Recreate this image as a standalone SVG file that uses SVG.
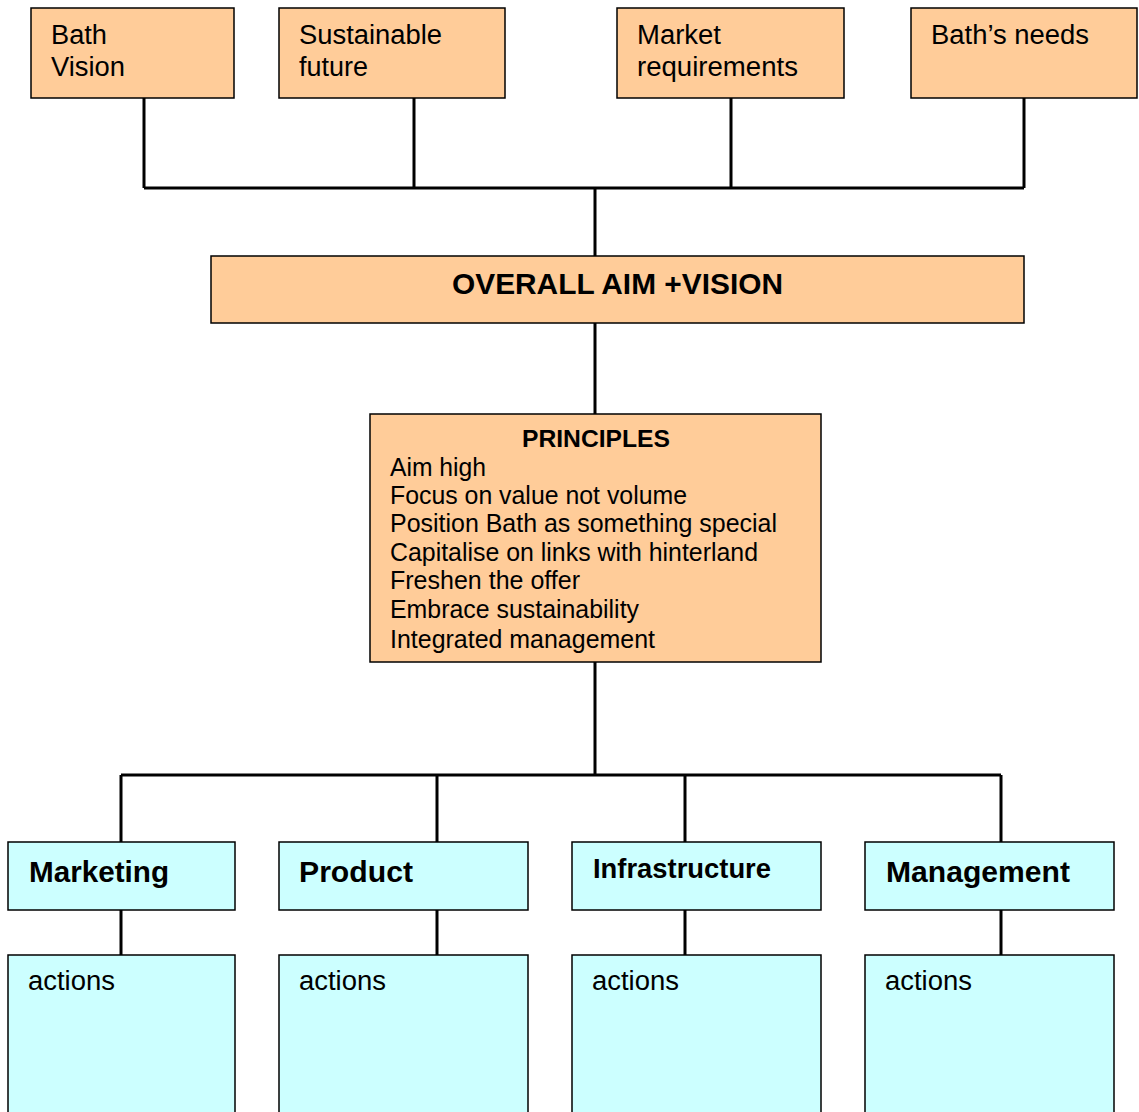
<svg xmlns="http://www.w3.org/2000/svg" width="1139" height="1112" viewBox="0 0 1139 1112">
<style>
.peach{fill:#FFCC99;stroke:#000;stroke-width:1.5}
.cyan{fill:#CCFFFF;stroke:#000;stroke-width:1.5}
text{font-family:"Liberation Sans",Arial,sans-serif;fill:#000}
.t{font-size:27px}
.p{font-size:25px}
.b{font-weight:bold}
.c{fill:none;stroke:#000;stroke-width:3}
</style>
<rect width="1139" height="1112" fill="#fff"/>
<g id="connectors">
<path class="c" d="M144 98V188M414 98V188M731 98V188M1024 98V188M144 188H1024M595 188V256M595 323V414M595 662V775M121 775H1001M121 775V842M437 775V842M685 775V842M1001 775V842M121 910V955M437 910V955M685 910V955M1001 910V955"/>
</g>
<g id="bath-vision"><rect class="peach" x="31" y="8" width="203" height="90"/><text class="t" x="51" y="44" textLength="56" lengthAdjust="spacingAndGlyphs">Bath</text><text class="t" x="51" y="76" textLength="74" lengthAdjust="spacingAndGlyphs">Vision</text></g>
<g id="sustainable-future"><rect class="peach" x="279" y="8" width="226" height="90"/><text class="t" x="299" y="44" textLength="143" lengthAdjust="spacingAndGlyphs">Sustainable</text><text class="t" x="299" y="76" textLength="69" lengthAdjust="spacingAndGlyphs">future</text></g>
<g id="market-requirements"><rect class="peach" x="617" y="8" width="227" height="90"/><text class="t" x="637" y="44" textLength="84" lengthAdjust="spacingAndGlyphs">Market</text><text class="t" x="637" y="76" textLength="161" lengthAdjust="spacingAndGlyphs">requirements</text></g>
<g id="baths-needs"><rect class="peach" x="911" y="8" width="226" height="90"/><text class="t" x="931" y="44" textLength="158" lengthAdjust="spacingAndGlyphs">Bath’s needs</text></g>
<g id="overall-aim"><rect class="peach" x="211" y="256" width="813" height="67"/><text class="b" x="452" y="294" font-size="30" textLength="331" lengthAdjust="spacingAndGlyphs">OVERALL AIM +VISION</text></g>
<g id="principles"><rect class="peach" x="370" y="414" width="451" height="248"/>
<text class="b" x="522" y="447" font-size="24.5" textLength="148" lengthAdjust="spacingAndGlyphs">PRINCIPLES</text>
<text class="p" x="390" y="476" textLength="96" lengthAdjust="spacingAndGlyphs">Aim high</text>
<text class="p" x="390" y="504" textLength="297" lengthAdjust="spacingAndGlyphs">Focus on value not volume</text>
<text class="p" x="390" y="532" textLength="387" lengthAdjust="spacingAndGlyphs">Position Bath as something special</text>
<text class="p" x="390" y="561" textLength="368" lengthAdjust="spacingAndGlyphs">Capitalise on links with hinterland</text>
<text class="p" x="390" y="589" textLength="190" lengthAdjust="spacingAndGlyphs">Freshen the offer</text>
<text class="p" x="390" y="618" textLength="249" lengthAdjust="spacingAndGlyphs">Embrace sustainability</text>
<text class="p" x="390" y="648" textLength="265" lengthAdjust="spacingAndGlyphs">Integrated management</text>
</g>
<g id="marketing"><rect class="cyan" x="8" y="842" width="227" height="68"/><text class="b" x="29" y="882" font-size="30" textLength="140" lengthAdjust="spacingAndGlyphs">Marketing</text></g>
<g id="product"><rect class="cyan" x="279" y="842" width="249" height="68"/><text class="b" x="299" y="882" font-size="30" textLength="114" lengthAdjust="spacingAndGlyphs">Product</text></g>
<g id="infrastructure"><rect class="cyan" x="572" y="842" width="249" height="68"/><text class="b" x="593" y="878" font-size="27" textLength="178" lengthAdjust="spacingAndGlyphs">Infrastructure</text></g>
<g id="management"><rect class="cyan" x="865" y="842" width="249" height="68"/><text class="b" x="886" y="882" font-size="30" textLength="184" lengthAdjust="spacingAndGlyphs">Management</text></g>
<g id="marketing-actions"><rect class="cyan" x="8" y="955" width="227" height="170"/><text class="t" x="28" y="990" textLength="87" lengthAdjust="spacingAndGlyphs">actions</text></g>
<g id="product-actions"><rect class="cyan" x="279" y="955" width="249" height="170"/><text class="t" x="299" y="990" textLength="87" lengthAdjust="spacingAndGlyphs">actions</text></g>
<g id="infrastructure-actions"><rect class="cyan" x="572" y="955" width="249" height="170"/><text class="t" x="592" y="990" textLength="87" lengthAdjust="spacingAndGlyphs">actions</text></g>
<g id="management-actions"><rect class="cyan" x="865" y="955" width="249" height="170"/><text class="t" x="885" y="990" textLength="87" lengthAdjust="spacingAndGlyphs">actions</text></g>
</svg>
